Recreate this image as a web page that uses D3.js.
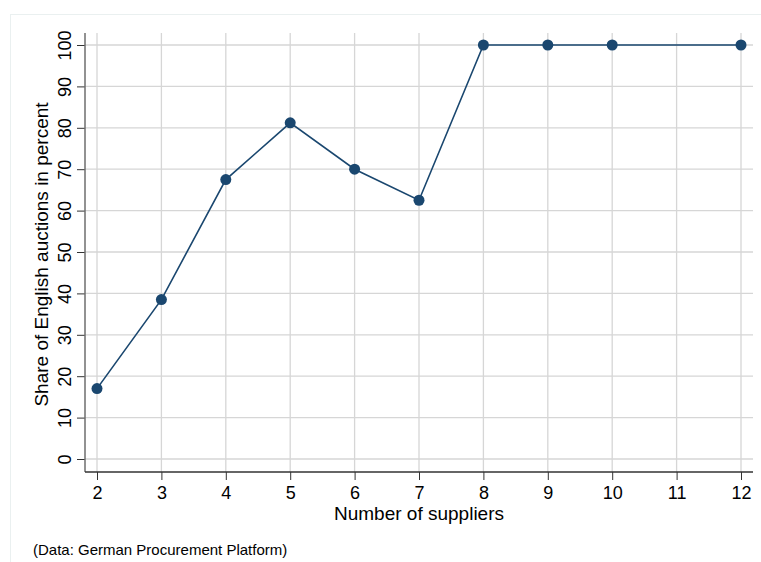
<!DOCTYPE html>
<html>
<head>
<meta charset="utf-8">
<script src="https://cdn.jsdelivr.net/npm/d3@7"></script>
<style>
  body { margin: 0; background: #fff; }
  text { font-family: "Liberation Sans", Arial, sans-serif; fill: #000; }
</style>
</head>
<body>
<div id="chart"></div>
<script>
// data
var suppliers = [2, 3, 4, 5, 6, 7, 8, 9, 10, 12]
var shareEnglish = [17, 38.5, 67.5, 81.2, 70, 62.5, 100, 100, 100, 100]
var xTicks = [2, 3, 4, 5, 6, 7, 8, 9, 10, 11, 12]
var yTicks = [0, 10, 20, 30, 40, 50, 60, 70, 80, 90, 100]

var width = 761, height = 562
var navy = "#1a476f"

var svg = d3.select("#chart").append("svg")
    .attr("width", width)
    .attr("height", height)

// faint graph frame
svg.append("rect")
    .attr("x", 10.5).attr("y", 14.5)
    .attr("width", 760).attr("height", 560)
    .attr("fill", "none")
    .attr("stroke", "#eaf0f0")

var x = d3.scaleLinear().domain([2, 12]).range([97, 741])
var y = d3.scaleLinear().domain([0, 100]).range([459, 45])

var plotLeft = 85, plotRight = 753, plotTop = 33, plotBottom = 472

// grid
svg.append("g").selectAll("line")
    .data(yTicks)
    .enter().append("line")
    .attr("x1", plotLeft).attr("x2", plotRight)
    .attr("y1", d => y(d)).attr("y2", d => y(d))
    .attr("stroke", "#d6d6d6").attr("stroke-width", 1.3)

svg.append("g").selectAll("line")
    .data(xTicks)
    .enter().append("line")
    .attr("x1", d => x(d)).attr("x2", d => x(d))
    .attr("y1", plotTop).attr("y2", plotBottom)
    .attr("stroke", "#d6d6d6").attr("stroke-width", 1.3)

// y axis
var yAxis = svg.append("g")
    .attr("transform", `translate(${plotLeft},0)`)
    .call(d3.axisLeft(y).tickValues(yTicks).tickSize(8).tickPadding(6))
yAxis.select(".domain").remove()
yAxis.append("line")
    .attr("x1", 0).attr("x2", 0)
    .attr("y1", plotTop).attr("y2", plotBottom)
    .attr("stroke", "#6e6e6e").attr("stroke-width", 1.5)
yAxis.selectAll(".tick line").attr("stroke", "#333")
yAxis.selectAll(".tick text")
    .attr("font-size", 18)
    .attr("font-family", "Liberation Sans, Arial, sans-serif")
    .attr("text-anchor", "middle")
    .attr("x", 0)
    .attr("y", 0)
    .attr("dy", "0.36em")
    .attr("transform", "translate(-20,0) rotate(-90)")

// x axis
var xAxis = svg.append("g")
    .attr("transform", `translate(0,${plotBottom})`)
    .call(d3.axisBottom(x).tickValues(xTicks).tickSize(8).tickPadding(6))
xAxis.select(".domain").remove()
xAxis.append("line")
    .attr("x1", plotLeft).attr("x2", plotRight)
    .attr("y1", 0).attr("y2", 0)
    .attr("stroke", "#333").attr("stroke-width", 1.5)
xAxis.selectAll(".tick line").attr("stroke", "#333")
xAxis.selectAll(".tick text")
    .attr("font-size", 18)
    .attr("font-family", "Liberation Sans, Arial, sans-serif")

// titles
svg.append("text")
    .attr("transform", `translate(48,${(plotTop + plotBottom) / 2 + 2}) rotate(-90)`)
    .attr("text-anchor", "middle")
    .attr("font-size", 19)
    .text("Share of English auctions in percent")

svg.append("text")
    .attr("x", (plotLeft + plotRight) / 2)
    .attr("y", 520)
    .attr("text-anchor", "middle")
    .attr("font-size", 19)
    .text("Number of suppliers")

svg.append("text")
    .attr("x", 33)
    .attr("y", 555)
    .attr("font-size", 15)
    .text("(Data: German Procurement Platform)")

// line + markers
var pts = suppliers.map((s, i) => [s, shareEnglish[i]])

svg.append("path")
    .datum(pts)
    .attr("fill", "none")
    .attr("stroke", navy)
    .attr("stroke-width", 1.6)
    .attr("d", d3.line().x(d => x(d[0])).y(d => y(d[1])))

svg.append("g").selectAll("circle")
    .data(pts)
    .enter().append("circle")
    .attr("cx", d => x(d[0]))
    .attr("cy", d => y(d[1]))
    .attr("r", 5.5)
    .attr("fill", navy)
</script>
</body>
</html>
